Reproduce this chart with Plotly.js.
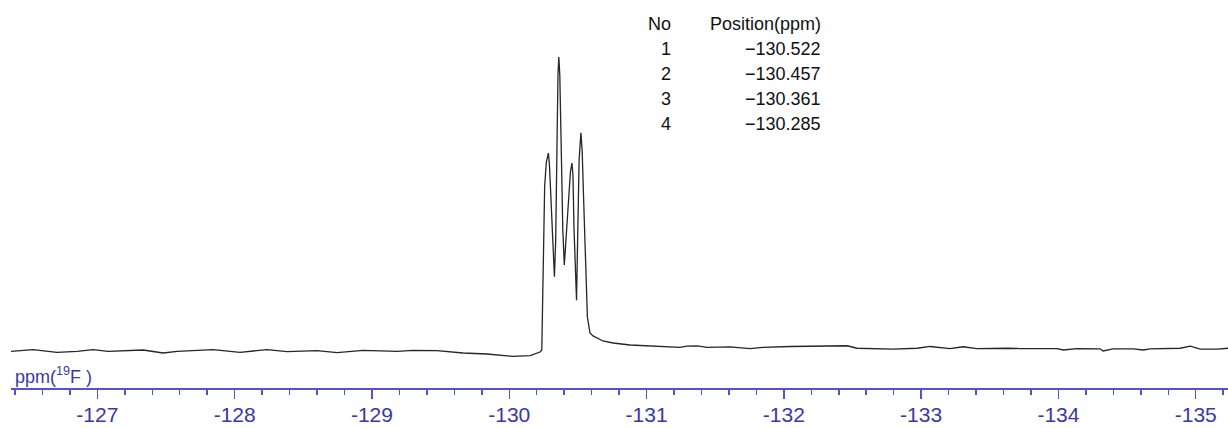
<!DOCTYPE html>
<html><head><meta charset="utf-8">
<script src="https://cdn.plot.ly/plotly-3.0.1.min.js"></script>
<style>html,body{margin:0;padding:0;background:#fff}#chart{width:1228px;height:428px}</style>
</head><body><div id="chart"></div>
<script>
// chemical shift (ppm) of each sampled point of the 19F spectrum
const shiftPpm = [
  -126.371, -126.532, -126.706, -126.852, -126.969, -127.078, -127.333, -127.479, -127.581, -127.843,
  -128.039, -128.236, -128.382, -128.600, -128.746, -128.935, -129.183, -129.299, -129.474, -129.663,
  -129.838, -129.955, -130.028, -130.152, -130.203, -130.224,
  -130.237, -130.243, -130.250, -130.258, -130.270, -130.285, -130.293, -130.303, -130.316, -130.329,
  -130.338, -130.347, -130.355, -130.361, -130.368, -130.379, -130.390, -130.401, -130.414, -130.430,
  -130.446, -130.457, -130.464, -130.472, -130.482, -130.490, -130.498, -130.509, -130.522, -130.531,
  -130.542, -130.553, -130.569, -130.588, -130.610,
  -130.683, -130.756, -130.880, -131.003, -131.244, -131.295, -131.368, -131.441, -131.608, -131.754,
  -131.849, -132.045, -132.140, -132.286, -132.461, -132.533, -132.679, -132.795, -132.970, -133.065,
  -133.210, -133.305, -133.407, -133.502, -133.626, -133.720, -133.990, -134.034, -134.136, -134.303,
  -134.325, -134.398, -134.544, -134.617, -134.668, -134.887, -134.960, -135.033, -135.157, -135.237
];
// relative intensity (tallest peak = 100)
const intensity = [
  -0.44, 0.10, -0.78, -0.44, 0.10, -0.44, 0.00, -1.02, -0.44, 0.10,
  -0.78, 0.10, -0.58, -0.24, -0.92, -0.10, -0.44, -0.10, -0.24, -1.02,
  -1.37, -1.81, -2.15, -1.95, -1.02, -0.68,
  0.0, 17.0, 41.0, 56.0, 64.0, 67.2, 63.0, 51.0, 36.0, 25.0,
  37.0, 72.0, 94.0, 100.0, 94.0, 68.0, 41.0, 29.0, 37.5, 51.0,
  61.0, 63.8, 59.5, 41.0, 24.0, 17.0, 37.5, 65.0, 74.1, 68.0,
  51.0, 30.7, 11.3, 5.8, 4.8,
  3.07, 2.39, 1.71, 1.37, 0.90, 1.30, 1.40, 0.90, 1.05, 0.50,
  0.90, 1.20, 1.20, 1.45, 1.45, 0.60, 0.50, 0.30, 0.60, 1.20,
  0.44, 1.10, 0.44, 0.60, 0.60, 0.50, 0.50, 0.00, 0.50, 0.40,
  -0.34, 0.40, 0.40, 0.00, 0.40, 0.60, 1.30, 0.30, 0.30, 0.60
];
const peakNo = ['1', '2', '3', '4'];
const peakPositions = [-130.522, -130.457, -130.361, -130.285];
const tickValues = [-127, -128, -129, -130, -131, -132, -133, -134, -135];
const tickLabels = ['-127', '-128', '-129', '-130', '-131', '-132', '-133', '-134', '-135'];
const axisLabel = 'ppm(<sup>19</sup>F )';
const tableHeader = ['No', 'Position(ppm)'];

const W = 1228, H = 428, ML = 11, MR = 0, MT = 0, MB = 40;
const PW = W - ML - MR, PH = H - MT - MB;
const px = X => (X - ML) / PW;
const py = Y => (H - MB - Y) / PH;

const font = "'Liberation Sans', Arial, sans-serif";
const blue = '#3838a8';
const axisBlue = '#5454c8';

const annotations = [];
annotations.push({xref:'paper', yref:'paper', x:px(13), y:py(375), xanchor:'left', yanchor:'middle',
  text: axisLabel, showarrow:false, font:{family:font, size:18, color:blue}});
annotations.push({xref:'paper', yref:'paper', x:px(673), y:py(24), xanchor:'right', yanchor:'middle',
  text: tableHeader[0], showarrow:false, font:{family:font, size:18, color:'#111'}});
annotations.push({xref:'paper', yref:'paper', x:px(823), y:py(24), xanchor:'right', yanchor:'middle',
  text: tableHeader[1], showarrow:false, font:{family:font, size:18, color:'#111'}});
for (let i = 0; i < peakNo.length; i++) {
  const yy = 49 + 25 * i;
  annotations.push({xref:'paper', yref:'paper', x:px(673), y:py(yy), xanchor:'right', yanchor:'middle',
    text: peakNo[i], showarrow:false, font:{family:font, size:18, color:'#111'}});
  annotations.push({xref:'paper', yref:'paper', x:px(823), y:py(yy), xanchor:'right', yanchor:'middle',
    text: peakPositions[i].toFixed(3).replace('-', '\u2212'), showarrow:false,
    font:{family:font, size:18, color:'#111'}});
}

const trace = {
  x: shiftPpm, y: intensity, type: 'scatter', mode: 'lines',
  line: {color: '#262626', width: 1.3}, hoverinfo: 'skip'
};

const layout = {
  width: W, height: H,
  margin: {l: ML, r: MR, t: MT, b: MB, pad: 0},
  paper_bgcolor: '#fff', plot_bgcolor: '#fff',
  showlegend: false,
  xaxis: {
    range: [-126.371, -135.235],
    tickmode: 'array', tickvals: tickValues, ticktext: tickLabels,
    ticks: 'outside', ticklen: 9, tickwidth: 1.5, tickcolor: axisBlue,
    showline: true, linecolor: axisBlue, linewidth: 1.5,
    showgrid: false, zeroline: false,
    tickfont: {family: font, size: 21, color: blue},
    ticklabelstandoff: -2,
    minor: {tickmode: 'linear', tick0: -127, dtick: 0.2, ticks: 'outside', ticklen: 5,
            tickwidth: 1.5, tickcolor: axisBlue, showgrid: false}
  },
  yaxis: {range: [-12.97, 119.45], visible: false, showgrid: false, zeroline: false},
  annotations: annotations
};

Plotly.newPlot('chart', [trace], layout, {staticPlot: true, displayModeBar: false});
</script>
</body></html>
